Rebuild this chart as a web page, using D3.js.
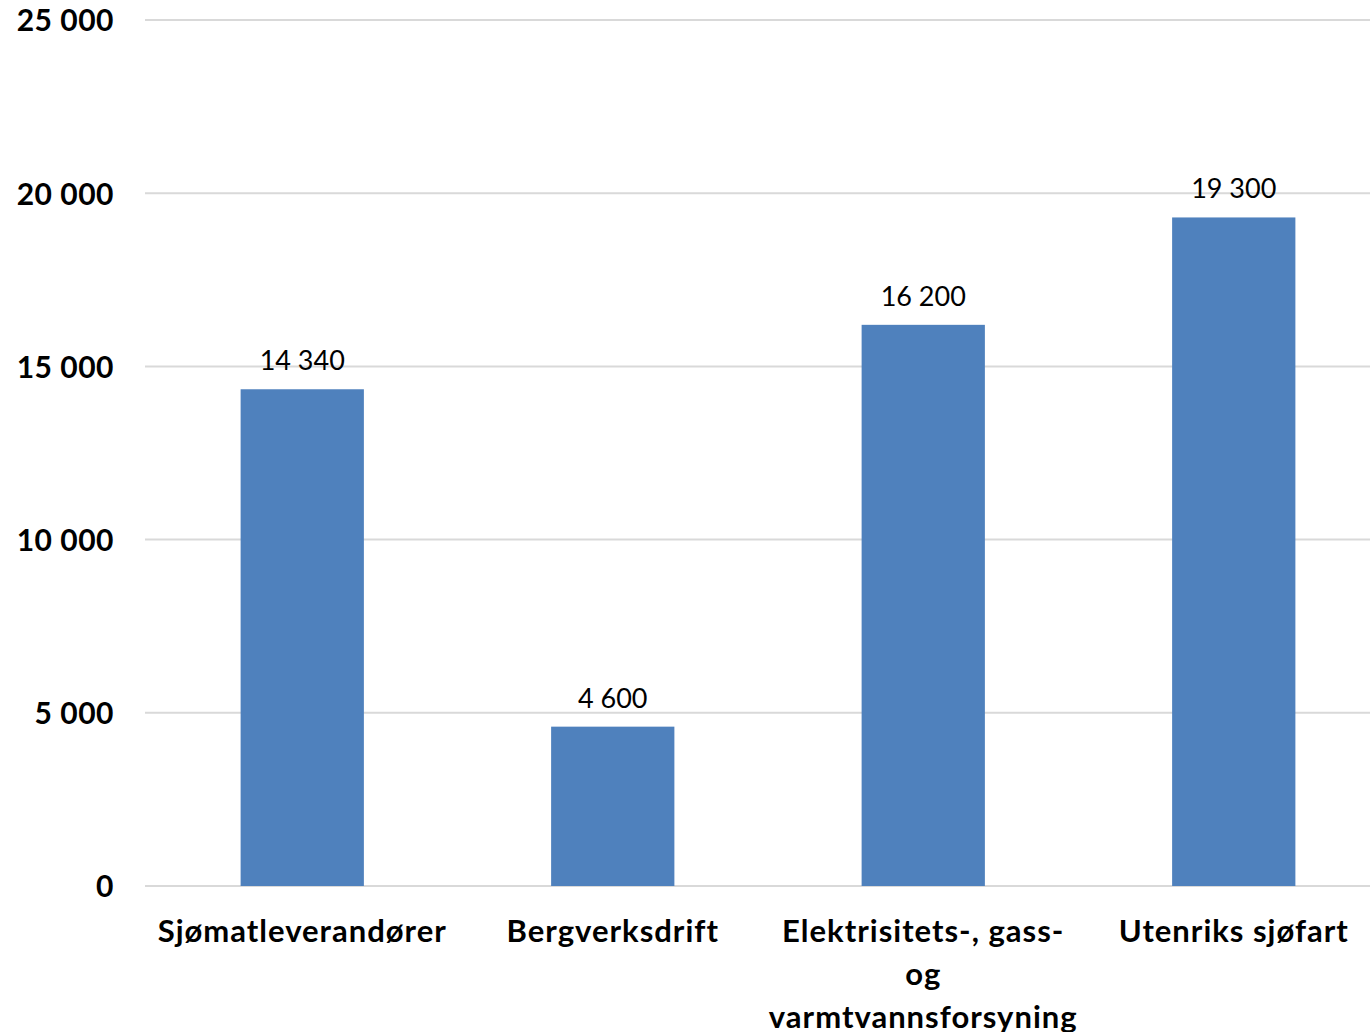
<!DOCTYPE html>
<html>
<head>
<meta charset="utf-8">
<script src="https://cdn.jsdelivr.net/npm/d3@7"></script>
<style>
  body { margin: 0; background: #fff; }
  svg { display: block; }
  text { font-family: Lato, "Open Sans", sans-serif; fill: #000; }
</style>
</head>
<body>
<svg id="chart" width="1370" height="1032"></svg>
<script>
(function () {
    var categories = ['Sjømatleverandører', 'Bergverksdrift', 'Elektrisitets-, gass- og varmtvannsforsyning', 'Utenriks sjøfart'];
    var labelLines = [['Sjømatleverandører'], ['Bergverksdrift'], ['Elektrisitets-, gass-', 'og', 'varmtvannsforsyning'], ['Utenriks sjøfart']];
    var values = [14340, 4600, 16200, 19300];
    var yTicks = [0, 5000, 10000, 15000, 20000, 25000];

    var svg = d3.select('#chart'),
        w = +svg.attr('width'),
        h = +svg.attr('height');

    var left = 145, top = 20, bottom = 886;

    // space as thousands separator
    var fmt = function (v) {
        return d3.format(',')(v).replace(/,/g, ' ');
    };

    var xScale = d3.scaleBand().domain(categories).range([147, 1389])
        .paddingInner(0.603).paddingOuter(0.3015);
    var yScale = d3.scaleLinear().domain([0, 25000]).range([bottom, top]);

    // gridlines
    svg.selectAll('line.grid')
        .data(yTicks)
        .enter()
        .append('line')
        .attr('class', 'grid')
        .attr('x1', left).attr('x2', w)
        .attr('y1', function (d) { return yScale(d); })
        .attr('y2', function (d) { return yScale(d); })
        .attr('stroke', '#d9d9d9')
        .attr('stroke-width', 2);

    // y axis labels
    var yAxis = d3.axisLeft(yScale).tickValues(yTicks).tickFormat(fmt).tickSize(0).tickPadding(0);
    var yAxisGroup = svg.append('g')
        .attr('transform', 'translate(114,0)')
        .call(yAxis);
    yAxisGroup.select('.domain').remove();
    yAxisGroup.selectAll('text')
        .attr('font-family', 'Lato, sans-serif')
        .attr('font-size', 30)
        .attr('font-weight', 'bold')
        .attr('letter-spacing', 0.5)
        .attr('fill', '#000')
        .attr('dy', '0.36em');

    // bars
    svg.selectAll('rect.bar')
        .data(values)
        .enter()
        .append('rect')
        .attr('class', 'bar')
        .attr('x', function (d, i) { return xScale(categories[i]); })
        .attr('width', xScale.bandwidth())
        .attr('y', function (d) { return yScale(d); })
        .attr('height', function (d) { return yScale(0) - yScale(d); })
        .attr('fill', '#4f81bd');

    // data labels
    svg.selectAll('text.val')
        .data(values)
        .enter()
        .append('text')
        .attr('class', 'val')
        .attr('x', function (d, i) { return xScale(categories[i]) + xScale.bandwidth() / 2; })
        .attr('y', function (d) { return yScale(d) - 19; })
        .attr('text-anchor', 'middle')
        .attr('font-size', 27)
        .text(fmt);

    // category labels
    var cat = svg.selectAll('text.cat')
        .data(labelLines)
        .enter()
        .append('text')
        .attr('class', 'cat')
        .attr('text-anchor', 'middle')
        .attr('font-size', 31)
        .attr('font-weight', 'bold')
        .attr('letter-spacing', 1);
    cat.selectAll('tspan')
        .data(function (d, i) { return d.map(function (s) { return { s: s, i: i }; }); })
        .enter()
        .append('tspan')
        .attr('x', function (d) { return xScale(categories[d.i]) + xScale.bandwidth() / 2; })
        .attr('y', function (d, j) { return 942 + j * 43; })
        .text(function (d) { return d.s; });
}).call(this);
</script>
</body>
</html>
